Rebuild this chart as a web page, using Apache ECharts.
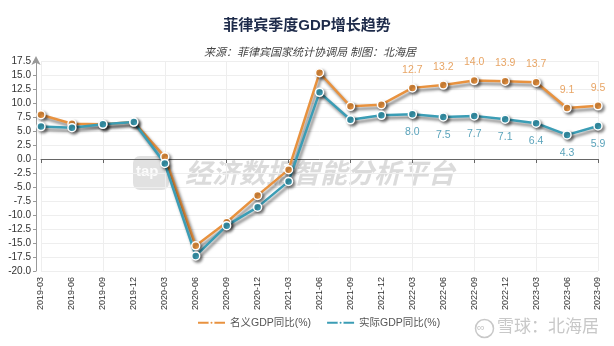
<!DOCTYPE html>
<html>
<head>
<meta charset="utf-8">
<script src="https://cdn.jsdelivr.net/npm/echarts@6/dist/echarts.min.js"></script>
<style>
  html, body { margin: 0; padding: 0; background: #fff; }
  #chart { width: 614px; height: 346px; }
</style>
</head>
<body>
<div id="chart"></div>
<script>
// Quarterly GDP growth of the Philippines, year on year (%)
const quarters = ['2019-03','2019-06','2019-09','2019-12','2020-03','2020-06','2020-09','2020-12',
  '2021-03','2021-06','2021-09','2021-12','2022-03','2022-06','2022-09','2022-12','2023-03','2023-06','2023-09'];
const nominalGdp = [7.9, 6.3, 6.2, 6.6, 0.4, -15.5, -11.3, -6.5, -1.9, 15.4, 9.4, 9.7, 12.7, 13.2, 14.0, 13.9, 13.7, 9.1, 9.5];
const realGdp = [5.8, 5.6, 6.2, 6.6, -0.8, -17.3, -11.9, -8.6, -4.0, 11.9, 7.0, 7.8, 8.0, 7.5, 7.7, 7.1, 6.4, 4.3, 5.9];
const yTicks = { min: -20, max: 17.5, step: 2.5 };
const firstLabelled = 12; // value labels are shown from 2022-03 onward

const FONT = '"Liberation Sans", "Noto Sans CJK SC", sans-serif';
const ORANGE = '#e8923f';
const TEAL = '#3b9db5';

function withLabels(values) {
  return values.map((v, i) => ({ value: v, label: { show: i >= firstLabelled } }));
}

function lineSeries(name, values, color, labelColor, pos) {
  return {
    name: name,
    type: 'line',
    data: withLabels(values),
    symbol: 'circle',
    symbolSize: 8,
    lineStyle: { width: 2.5, color: color, shadowColor: 'rgba(0,0,0,0.5)', shadowBlur: 3, shadowOffsetX: 2, shadowOffsetY: 3 },
    itemStyle: { color: color, borderColor: '#fff', borderWidth: 1.5, shadowColor: 'rgba(0,0,0,0.45)', shadowBlur: 3, shadowOffsetX: 2, shadowOffsetY: 2 },
    label: { position: pos, distance: 8, color: labelColor, fontSize: 10.5, fontFamily: FONT,
      formatter: p => p.value.toFixed(1) },
    emphasis: { disabled: true },
    z: 3
  };
}

const chart = echarts.init(document.getElementById('chart'), null, { renderer: 'canvas' });
chart.setOption({
  animation: false,
  backgroundColor: '#fff',
  title: [
    { text: '菲律宾季度GDP增长趋势', left: 'center', top: 13,
      textStyle: { fontSize: 15, fontWeight: 'bold', color: '#1e2b4a', fontFamily: FONT } },
    { text: '来源：菲律宾国家统计协调局 制图：北海居', left: 305, textAlign: 'center', top: 42,
      textStyle: { fontSize: 11, fontStyle: 'italic', fontWeight: 'normal', color: '#444', fontFamily: FONT } }
  ],
  legend: {
    bottom: 13, left: 192, itemGap: 15, itemWidth: 27, itemHeight: 5,
    textStyle: { fontSize: 10.5, color: '#555', fontFamily: FONT },
    data: ['名义GDP同比(%)', '实际GDP同比(%)']
  },
  grid: { left: 41, right: 16, top: 61, bottom: 75, containLabel: false },
  xAxis: [
    {
      type: 'category', data: quarters, boundaryGap: false, position: 'bottom',
      axisLine: { onZero: true, lineStyle: { color: '#666', width: 1 } },
      axisTick: { show: true, length: 4, lineStyle: { color: '#666' } },
      axisLabel: { show: false },
      splitLine: { show: true, lineStyle: { color: '#eeeeee' } }
    },
    {
      type: 'category', data: quarters, boundaryGap: false, position: 'bottom',
      axisLine: { show: false, onZero: false },
      axisTick: { show: false },
      axisLabel: { rotate: 90, fontSize: 9, color: '#333', margin: 6, fontFamily: FONT, interval: 0 },
      splitLine: { show: false }
    }
  ],
  yAxis: {
    type: 'value', min: yTicks.min, max: yTicks.max, interval: yTicks.step, offset: 5,
    axisLine: { show: true, lineStyle: { color: '#999' }, symbol: ['none', 'arrow'], symbolSize: [7, 9], symbolOffset: [0, 5] },
    axisTick: { show: true, length: 3, lineStyle: { color: '#999' } },
    axisLabel: { fontSize: 10, color: '#333', fontFamily: FONT, margin: 5, formatter: v => v.toFixed(1) },
    splitLine: { show: true, lineStyle: { color: '#eeeeee' } }
  },
  graphic: [
    { type: 'rect', left: 133, top: 156, shape: { width: 36, height: 34, r: 7 }, style: { fill: 'rgba(200,200,200,0.55)' }, z: 0 },
    { type: 'text', left: 136, top: 164, style: { text: 'tap', fill: 'rgba(255,255,255,0.9)', font: 'bold 15px ' + FONT }, z: 0 },
    { type: 'text', left: 185, top: 159, style: { text: '经济数据智能分析平台', fill: 'rgba(195,195,195,0.6)', font: 'italic bold 27px "Noto Sans CJK SC", sans-serif' }, z: 0 },
    { type: 'circle', left: 473, top: 317, shape: { r: 9 }, style: { fill: 'none', stroke: '#c8c8c8', lineWidth: 1.5 }, z: 0 },
    { type: 'text', left: 477, top: 322, style: { text: '∞', fill: '#c8c8c8', font: '11px ' + FONT }, z: 0 },
    { type: 'text', left: 497, top: 317, style: { text: '雪球：北海居', fill: '#c8c8c8', font: '17px "Noto Sans CJK SC", sans-serif' }, z: 0 }
  ],
  series: [
    lineSeries('名义GDP同比(%)', nominalGdp, ORANGE, '#e8a565', 'top'),
    lineSeries('实际GDP同比(%)', realGdp, TEAL, '#5aa3bb', 'bottom')
  ]
});
</script>
</body>
</html>
